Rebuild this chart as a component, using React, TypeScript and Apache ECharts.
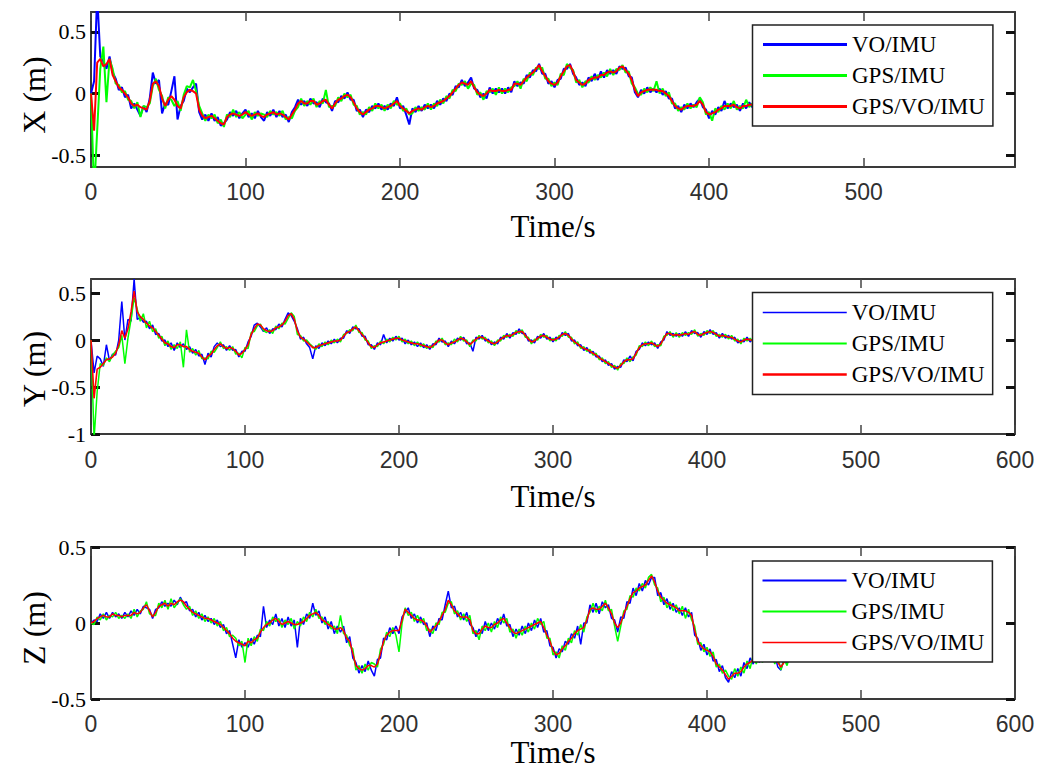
import React, { useEffect, useRef } from "react";
import * as echarts from "echarts";

const SERIES_NAMES = ["VO/IMU", "GPS/IMU", "GPS/VO/IMU"];
const COLORS = ["#0000ff", "#00ff00", "#ff0000"];
const TIME_STEP = 2; // seconds between samples
const X_TICKS_A = [0, 100, 200, 300, 400, 500];
const X_TICKS_B = [0, 100, 200, 300, 400, 500, 600];
const Y_TICKS_X = [-0.5, 0, 0.5];
const Y_TICKS_Y = [-1, -0.5, 0, 0.5];
const Y_TICKS_Z = [-0.5, 0, 0.5];

// ---------- X (m) ----------
const X_VO = [
  0, 0.10, 0.80, 0.30, 0.26, 0.20, 0.30, 0.17, 0.12, 0.03,
  0.05, -0.03, -0.01, -0.12, -0.08, -0.13, -0.18, -0.10, -0.15, -0.04,
  0.17, 0.08, 0.11, -0.16, -0.08, -0.09, 0.02, 0.14, -0.21, -0.10,
  -0.06, 0.04, 0.01, 0.05, 0.08, -0.15, -0.21, -0.17, -0.22, -0.16,
  -0.22, -0.19, -0.26, -0.24, -0.21, -0.15, -0.18, -0.14, -0.20, -0.16,
  -0.13, -0.19, -0.16, -0.20, -0.14, -0.19, -0.22, -0.15, -0.18, -0.13,
  -0.19, -0.14, -0.19, -0.17, -0.23, -0.15, -0.11, -0.05, -0.09, -0.06,
  -0.10, -0.04, -0.08, -0.07, -0.11, -0.04, -0.07, -0.08, -0.14, -0.06,
  -0.07, -0.02, -0.04, 0.01, -0.05, -0.05, -0.14, -0.13, -0.19, -0.13,
  -0.15, -0.10, -0.12, -0.08, -0.13, -0.10, -0.13, -0.08, -0.10, -0.03,
  -0.12, -0.10, -0.17, -0.25, -0.12, -0.15, -0.10, -0.14, -0.09, -0.12,
  -0.09, -0.12, -0.06, -0.09, -0.04, -0.06, 0.00, -0.01, 0.06, 0.05,
  0.11, 0.06, 0.09, 0.13, 0.04, 0.03, -0.03, 0.00, -0.04, 0.05,
  0.00, 0.04, 0.01, 0.04, 0.00, 0.05, 0.01, 0.10, 0.06, 0.09,
  0.08, 0.15, 0.13, 0.19, 0.18, 0.24, 0.16, 0.16, 0.08, 0.10,
  0.05, 0.11, 0.12, 0.20, 0.20, 0.24, 0.16, 0.13, 0.07, 0.09,
  0.06, 0.13, 0.10, 0.16, 0.11, 0.18, 0.13, 0.19, 0.16, 0.19,
  0.16, 0.22, 0.20, 0.21, 0.14, 0.13, 0.01, -0.03, 0.03, 0.00,
  0.05, 0.01, 0.04, 0.01, 0.04, -0.01, 0.02, -0.04, -0.04, -0.12,
  -0.10, -0.15, -0.09, -0.12, -0.08, -0.11, -0.07, -0.04, -0.11, -0.13,
  -0.20, -0.14, -0.17, -0.11, -0.14, -0.06, -0.12, -0.08, -0.11, -0.09,
  -0.14, -0.08, -0.12, -0.07, -0.11, -0.08,
];
const X_GPS = [
  0, -0.80, -0.30, 0.20, 0.38, -0.07, 0.28, 0.20, 0.08, 0.07,
  0.01, 0.02, -0.05, -0.06, -0.12, -0.07, -0.19, -0.10, -0.11, -0.08,
  0.06, 0.12, 0.03, -0.02, -0.12, -0.03, -0.05, -0.10, -0.06, -0.14,
  -0.01, 0.06, 0.05, 0.11, 0.02, -0.10, -0.16, -0.22, -0.17, -0.20,
  -0.17, -0.24, -0.21, -0.27, -0.17, -0.19, -0.13, -0.19, -0.15, -0.20,
  -0.17, -0.14, -0.21, -0.15, -0.18, -0.16, -0.17, -0.19, -0.14, -0.17,
  -0.15, -0.18, -0.14, -0.21, -0.19, -0.20, -0.14, -0.11, -0.04, -0.10,
  -0.06, -0.09, -0.04, -0.11, -0.06, -0.08, 0.03, -0.11, -0.10, -0.10,
  -0.03, -0.06, 0.00, -0.03, -0.01, -0.09, -0.10, -0.17, -0.15, -0.17,
  -0.11, -0.14, -0.08, -0.12, -0.09, -0.14, -0.09, -0.12, -0.06, -0.09,
  -0.08, -0.14, -0.12, -0.17, -0.16, -0.11, -0.14, -0.11, -0.13, -0.08,
  -0.13, -0.08, -0.10, -0.05, -0.08, -0.02, -0.04, 0.03, 0.02, 0.08,
  0.07, 0.10, 0.04, 0.08, 0.07, -0.01, 0.01, -0.05, 0.02, 0.01,
  0.04, -0.01, 0.05, 0.00, 0.04, 0.01, 0.05, 0.06, 0.10, 0.04,
  0.12, 0.10, 0.17, 0.15, 0.21, 0.20, 0.21, 0.12, 0.12, 0.06,
  0.09, 0.07, 0.16, 0.15, 0.24, 0.21, 0.19, 0.09, 0.11, 0.05,
  0.10, 0.09, 0.14, 0.11, 0.15, 0.13, 0.17, 0.14, 0.20, 0.15,
  0.20, 0.19, 0.23, 0.17, 0.18, 0.08, 0.05, 0.00, -0.01, 0.04,
  0.01, 0.05, 0.02, 0.10, 0.00, 0.04, -0.02, 0.01, -0.08, -0.08,
  -0.14, -0.11, -0.13, -0.08, -0.12, -0.09, -0.11, -0.03, -0.07, -0.17,
  -0.15, -0.22, -0.12, -0.15, -0.10, -0.13, -0.08, -0.12, -0.06, -0.13,
  -0.10, -0.12, -0.05, -0.11, -0.08, -0.12,
];
const X_FUSED = [
  0, -0.30, 0.25, 0.28, 0.22, 0.24, 0.28, 0.15, 0.10, 0.05,
  0.03, 0.00, -0.03, -0.08, -0.10, -0.09, -0.11, -0.12, -0.13, -0.06,
  0.08, 0.10, 0.06, -0.04, -0.10, -0.05, -0.02, -0.05, -0.10, -0.12,
  -0.03, 0.01, 0.03, 0.02, 0.00, -0.13, -0.18, -0.20, -0.19, -0.18,
  -0.20, -0.22, -0.24, -0.25, -0.19, -0.17, -0.16, -0.17, -0.18, -0.17,
  -0.15, -0.17, -0.18, -0.17, -0.16, -0.18, -0.19, -0.17, -0.16, -0.15,
  -0.17, -0.16, -0.17, -0.19, -0.21, -0.17, -0.13, -0.08, -0.06, -0.08,
  -0.08, -0.06, -0.06, -0.09, -0.08, -0.06, -0.05, -0.09, -0.12, -0.08,
  -0.05, -0.04, -0.02, -0.01, -0.03, -0.07, -0.12, -0.15, -0.17, -0.15,
  -0.13, -0.12, -0.10, -0.10, -0.11, -0.12, -0.11, -0.10, -0.08, -0.06,
  -0.10, -0.12, -0.14, -0.16, -0.14, -0.13, -0.12, -0.13, -0.11, -0.10,
  -0.11, -0.10, -0.08, -0.07, -0.06, -0.04, -0.02, 0.01, 0.04, 0.07,
  0.09, 0.08, 0.07, 0.10, 0.05, 0.01, -0.01, -0.02, 0.00, 0.03,
  0.02, 0.02, 0.03, 0.02, 0.02, 0.03, 0.03, 0.08, 0.08, 0.07,
  0.10, 0.13, 0.15, 0.17, 0.20, 0.23, 0.18, 0.14, 0.10, 0.08,
  0.07, 0.09, 0.14, 0.18, 0.22, 0.23, 0.18, 0.11, 0.09, 0.07,
  0.08, 0.11, 0.12, 0.13, 0.13, 0.15, 0.15, 0.17, 0.18, 0.17,
  0.18, 0.21, 0.22, 0.19, 0.16, 0.11, 0.03, -0.02, 0.01, 0.02,
  0.03, 0.03, 0.03, 0.03, 0.02, 0.02, 0.00, -0.02, -0.06, -0.10,
  -0.12, -0.13, -0.11, -0.10, -0.10, -0.10, -0.09, -0.06, -0.09, -0.15,
  -0.17, -0.16, -0.15, -0.13, -0.12, -0.10, -0.10, -0.10, -0.09, -0.11,
  -0.12, -0.10, -0.10, -0.09, -0.09, -0.10,
];

// ---------- Y (m) ----------
const Y_VO = [
  0, -0.35, -0.17, -0.20, -0.28, -0.05, -0.22, -0.15, -0.16, 0.00,
  0.41, 0.00, 0.22, 0.20, 0.65, 0.22, 0.24, 0.19, 0.20, 0.12,
  0.16, 0.06, 0.07, -0.01, 0.00, -0.07, -0.03, -0.11, -0.03, -0.08,
  -0.04, -0.10, -0.07, -0.14, -0.10, -0.17, -0.15, -0.26, -0.14, -0.18,
  -0.07, -0.03, -0.07, -0.05, -0.11, -0.06, -0.11, -0.10, -0.18, -0.12,
  -0.12, -0.02, 0.04, 0.16, 0.18, 0.14, 0.09, 0.13, 0.07, 0.12,
  0.11, 0.17, 0.14, 0.22, 0.29, 0.26, 0.20, 0.12, 0.01, 0.03,
  -0.04, -0.08, -0.20, -0.06, -0.09, -0.03, -0.06, -0.01, -0.04, 0.01,
  -0.03, 0.02, 0.02, 0.10, 0.07, 0.14, 0.12, 0.12, 0.04, 0.04,
  -0.05, -0.05, -0.10, -0.03, -0.05, 0.06, -0.03, 0.02, -0.01, 0.04,
  0.00, 0.02, -0.04, 0.00, -0.05, -0.02, -0.07, -0.03, -0.08, -0.05,
  -0.10, -0.04, -0.05, 0.02, -0.02, -0.01, -0.07, -0.01, -0.04, 0.02,
  0.00, 0.03, -0.04, -0.03, -0.12, 0.03, 0.01, 0.05, -0.01, 0.01,
  -0.05, -0.02, -0.04, 0.03, 0.01, 0.07, 0.02, 0.08, 0.06, 0.12,
  0.07, 0.07, -0.01, 0.00, -0.03, 0.04, 0.02, 0.07, 0.01, 0.03,
  -0.02, 0.03, 0.01, 0.08, 0.05, 0.07, -0.01, 0.00, -0.06, -0.05,
  -0.11, -0.08, -0.14, -0.12, -0.18, -0.17, -0.23, -0.21, -0.27, -0.25,
  -0.31, -0.28, -0.29, -0.21, -0.23, -0.17, -0.22, -0.12, -0.10, -0.03,
  -0.06, -0.02, -0.05, -0.03, -0.09, -0.02, 0.00, 0.09, 0.05, 0.07,
  0.04, 0.07, 0.04, 0.09, 0.04, 0.10, 0.07, 0.08, 0.03, 0.09,
  0.06, 0.11, 0.06, 0.08, 0.02, 0.07, 0.02, 0.05, 0.01, 0.03,
  -0.03, 0.00, -0.02, 0.03, -0.02, 0.02,
];
const Y_GPS = [
  0, -1.05, -0.55, -0.25, -0.27, -0.19, -0.23, -0.16, -0.12, -0.08,
  0.05, -0.25, 0.02, 0.22, 0.45, 0.33, 0.20, 0.28, 0.13, 0.20,
  0.09, 0.12, 0.02, 0.04, -0.06, -0.01, -0.10, -0.05, -0.09, -0.02,
  -0.29, 0.11, -0.13, -0.09, -0.16, -0.11, -0.20, -0.19, -0.20, -0.12,
  -0.13, -0.08, -0.02, -0.09, -0.07, -0.11, -0.07, -0.15, -0.14, -0.19,
  -0.08, -0.09, 0.08, 0.09, 0.15, 0.17, 0.10, 0.08, 0.11, 0.07,
  0.15, 0.12, 0.18, 0.17, 0.23, 0.29, 0.25, 0.06, 0.05, -0.01,
  0.00, -0.04, -0.07, -0.10, -0.04, -0.07, -0.02, -0.05, 0.00, -0.03,
  0.01, -0.02, 0.06, 0.07, 0.11, 0.10, 0.16, 0.08, 0.08, 0.00,
  -0.01, -0.09, -0.06, -0.07, -0.01, -0.04, 0.01, -0.02, 0.03, 0.00,
  0.04, -0.02, 0.01, -0.04, -0.01, -0.06, -0.02, -0.07, -0.04, -0.09,
  -0.06, -0.08, -0.01, -0.02, 0.02, -0.05, -0.03, -0.05, 0.01, -0.02,
  0.04, -0.01, 0.00, -0.07, 0.00, -0.01, 0.05, 0.01, 0.03, -0.03,
  -0.01, -0.06, 0.00, -0.01, 0.05, 0.03, 0.06, 0.04, 0.10, 0.07,
  0.11, 0.03, 0.03, -0.04, 0.01, 0.00, 0.06, 0.03, 0.05, -0.01,
  0.02, -0.01, 0.05, 0.04, 0.09, 0.03, 0.03, -0.04, -0.02, -0.09,
  -0.07, -0.12, -0.10, -0.16, -0.14, -0.21, -0.19, -0.25, -0.23, -0.29,
  -0.27, -0.32, -0.25, -0.25, -0.19, -0.23, -0.18, -0.16, -0.06, -0.07,
  -0.02, -0.06, -0.01, -0.07, -0.05, -0.06, 0.04, 0.05, 0.09, 0.03,
  0.08, 0.03, 0.08, 0.05, 0.08, 0.06, 0.11, 0.04, 0.07, 0.05,
  0.10, 0.07, 0.10, 0.04, 0.06, 0.03, 0.06, 0.01, 0.05, -0.01,
  0.01, -0.04, 0.02, -0.01, 0.02, -0.02,
];
const Y_FUSED = [
  0, -0.62, -0.31, -0.29, -0.25, -0.21, -0.20, -0.18, -0.14, -0.05,
  0.10, 0.02, 0.12, 0.30, 0.52, 0.30, 0.25, 0.22, 0.18, 0.15,
  0.13, 0.09, 0.05, 0.01, -0.03, -0.04, -0.07, -0.08, -0.05, -0.05,
  -0.07, -0.07, -0.10, -0.12, -0.13, -0.14, -0.18, -0.21, -0.17, -0.15,
  -0.10, -0.06, -0.04, -0.07, -0.09, -0.08, -0.09, -0.12, -0.16, -0.14,
  -0.10, -0.05, 0.06, 0.12, 0.17, 0.16, 0.12, 0.10, 0.09, 0.10,
  0.13, 0.14, 0.16, 0.20, 0.26, 0.28, 0.22, 0.10, 0.03, 0.01,
  -0.02, -0.05, -0.08, -0.08, -0.06, -0.05, -0.04, -0.03, -0.02, -0.01,
  -0.01, 0.00, 0.04, 0.08, 0.09, 0.12, 0.14, 0.10, 0.06, 0.02,
  -0.03, -0.07, -0.08, -0.05, -0.03, -0.02, -0.01, 0.00, 0.01, 0.02,
  0.02, 0.00, -0.01, -0.02, -0.03, -0.04, -0.04, -0.05, -0.06, -0.07,
  -0.08, -0.06, -0.03, 0.00, 0.00, -0.03, -0.05, -0.03, -0.02, 0.00,
  0.02, 0.01, -0.02, -0.05, -0.02, 0.01, 0.03, 0.03, 0.01, -0.01,
  -0.03, -0.04, -0.02, 0.01, 0.03, 0.05, 0.04, 0.06, 0.08, 0.09,
  0.09, 0.05, 0.01, -0.02, -0.01, 0.02, 0.04, 0.05, 0.03, 0.01,
  0.00, 0.01, 0.03, 0.06, 0.07, 0.05, 0.01, -0.02, -0.04, -0.07,
  -0.09, -0.10, -0.12, -0.14, -0.16, -0.19, -0.21, -0.23, -0.25, -0.27,
  -0.29, -0.30, -0.27, -0.23, -0.21, -0.21, -0.20, -0.14, -0.08, -0.05,
  -0.04, -0.04, -0.03, -0.05, -0.07, -0.04, 0.02, 0.07, 0.07, 0.05,
  0.06, 0.05, 0.06, 0.07, 0.06, 0.08, 0.09, 0.06, 0.05, 0.07,
  0.08, 0.09, 0.08, 0.06, 0.04, 0.05, 0.04, 0.03, 0.03, 0.01,
  -0.01, -0.02, 0.00, 0.01, 0.00, 0.00,
];

// ---------- Z (m) ----------
const Z_VO = [
  0.00, 0.02, 0.01, 0.06, 0.03, 0.07, 0.03, 0.07, 0.04, 0.06,
  0.03, 0.07, 0.04, 0.08, 0.05, 0.09, 0.06, 0.11, 0.10, 0.09,
  0.03, 0.09, 0.10, 0.14, 0.11, 0.13, 0.11, 0.15, 0.12, 0.17,
  0.13, 0.14, 0.08, 0.09, 0.04, 0.07, 0.02, 0.05, 0.01, 0.03,
  -0.01, 0.02, -0.03, -0.01, -0.07, -0.05, -0.14, -0.23, -0.11, -0.16,
  -0.13, -0.16, -0.10, -0.14, -0.08, -0.09, 0.11, -0.03, 0.02, -0.01,
  0.06, -0.02, 0.03, -0.03, 0.04, -0.02, 0.02, -0.16, 0.03, -0.01,
  0.06, 0.03, 0.13, 0.05, 0.08, 0.00, 0.04, -0.04, 0.01, -0.07,
  -0.02, -0.06, -0.02, -0.13, -0.09, -0.23, -0.26, -0.33, -0.28, -0.32,
  -0.25, -0.31, -0.35, -0.24, -0.23, -0.10, -0.11, -0.03, -0.07, -0.02,
  -0.07, 0.04, 0.07, 0.10, 0.03, 0.06, 0.00, 0.04, -0.01, 0.00,
  -0.09, -0.02, -0.05, 0.03, 0.02, 0.12, 0.21, 0.10, 0.11, 0.04,
  0.07, 0.02, 0.07, -0.01, -0.03, -0.09, -0.04, -0.07, 0.01, -0.05,
  0.00, -0.04, 0.03, -0.01, 0.06, -0.02, -0.01, -0.09, -0.04, -0.08,
  -0.02, -0.07, 0.00, -0.05, 0.02, -0.03, 0.03, -0.06, -0.05, -0.15,
  -0.16, -0.23, -0.17, -0.19, -0.12, -0.14, -0.07, -0.10, -0.02, -0.14,
  0.00, 0.00, 0.12, 0.07, 0.13, 0.06, 0.14, 0.10, 0.12, 0.03,
  0.02, -0.06, 0.04, 0.03, 0.14, 0.13, 0.23, 0.18, 0.26, 0.21,
  0.28, 0.25, 0.30, 0.30, 0.18, 0.20, 0.12, 0.16, 0.09, 0.13,
  0.07, 0.10, 0.05, 0.10, 0.04, 0.07, -0.08, -0.10, -0.18, -0.14,
  -0.21, -0.17, -0.25, -0.24, -0.32, -0.28, -0.36, -0.39, -0.32, -0.36,
  -0.30, -0.35, -0.26, -0.30, -0.23, -0.27, -0.21, -0.26, -0.19, -0.24,
  -0.18, -0.25, -0.21, -0.29, -0.31, -0.23, -0.27, -0.19, -0.22, -0.17,
];
const Z_GPS = [
  0.00, -0.01, 0.04, 0.02, 0.06, 0.02, 0.05, 0.04, 0.07, 0.03,
  0.05, 0.03, 0.06, 0.03, 0.09, 0.04, 0.08, 0.09, 0.14, 0.06,
  0.05, 0.05, 0.13, 0.10, 0.15, 0.09, 0.16, 0.10, 0.13, 0.16,
  0.12, 0.09, 0.11, 0.05, 0.08, 0.03, 0.06, 0.01, 0.04, 0.00,
  0.03, -0.02, 0.01, -0.05, -0.03, -0.09, -0.08, -0.10, -0.15, -0.12,
  -0.26, -0.10, -0.15, -0.09, -0.12, -0.04, -0.05, 0.01, -0.02, 0.04,
  0.01, 0.03, -0.03, 0.02, -0.01, 0.03, -0.04, 0.01, -0.02, 0.04,
  0.01, 0.07, 0.04, 0.09, 0.03, 0.04, -0.01, 0.01, -0.04, -0.02,
  -0.07, 0.05, -0.07, -0.08, -0.15, -0.17, -0.31, -0.28, -0.33, -0.27,
  -0.31, -0.26, -0.27, -0.29, -0.17, -0.14, -0.06, -0.09, -0.03, -0.08,
  -0.19, 0.00, 0.10, 0.05, 0.07, 0.01, 0.05, 0.00, 0.03, -0.05,
  -0.04, -0.07, 0.00, -0.01, 0.07, 0.07, 0.13, 0.14, 0.06, 0.08,
  0.02, 0.06, 0.01, 0.05, -0.07, -0.05, -0.11, -0.02, -0.05, 0.00,
  -0.06, 0.01, -0.03, 0.04, 0.00, 0.03, -0.06, -0.04, -0.10, -0.04,
  -0.08, -0.02, -0.06, 0.00, -0.04, 0.03, -0.01, 0.01, -0.10, -0.10,
  -0.21, -0.19, -0.23, -0.15, -0.18, -0.10, -0.13, -0.05, -0.08, -0.01,
  -0.06, 0.04, 0.07, 0.13, 0.07, 0.11, 0.08, 0.15, 0.08, 0.09,
  -0.02, -0.12, -0.02, 0.08, 0.09, 0.18, 0.17, 0.23, 0.21, 0.26,
  0.23, 0.30, 0.32, 0.25, 0.23, 0.14, 0.17, 0.10, 0.14, 0.08,
  0.12, 0.06, 0.11, 0.03, 0.09, 0.02, -0.02, -0.14, -0.13, -0.19,
  -0.16, -0.22, -0.19, -0.29, -0.27, -0.33, -0.31, -0.35, -0.37, -0.30,
  -0.35, -0.29, -0.33, -0.25, -0.30, -0.21, -0.27, -0.19, -0.26, -0.17,
  -0.25, -0.19, -0.27, -0.22, -0.31, -0.24, -0.28, -0.20, -0.24, -0.21,
];
const Z_FUSED = [
  0.00, 0.01, 0.03, 0.04, 0.05, 0.04, 0.04, 0.06, 0.05, 0.05,
  0.04, 0.05, 0.05, 0.05, 0.07, 0.06, 0.07, 0.10, 0.12, 0.08,
  0.04, 0.07, 0.11, 0.12, 0.13, 0.11, 0.13, 0.12, 0.14, 0.15,
  0.14, 0.11, 0.09, 0.07, 0.06, 0.05, 0.04, 0.03, 0.03, 0.02,
  0.01, 0.00, -0.01, -0.03, -0.05, -0.07, -0.10, -0.12, -0.13, -0.14,
  -0.15, -0.12, -0.13, -0.11, -0.10, -0.06, -0.03, -0.01, 0.00, 0.02,
  0.03, 0.01, -0.01, 0.00, 0.01, 0.00, -0.01, -0.01, 0.00, 0.01,
  0.03, 0.05, 0.06, 0.07, 0.05, 0.02, 0.01, -0.01, -0.02, -0.04,
  -0.04, -0.03, -0.05, -0.10, -0.12, -0.20, -0.28, -0.30, -0.31, -0.30,
  -0.28, -0.28, -0.29, -0.27, -0.20, -0.12, -0.08, -0.06, -0.05, -0.05,
  -0.05, 0.02, 0.09, 0.07, 0.05, 0.03, 0.02, 0.02, 0.01, -0.02,
  -0.06, -0.04, -0.02, 0.01, 0.05, 0.09, 0.15, 0.12, 0.08, 0.06,
  0.04, 0.04, 0.04, 0.02, -0.05, -0.07, -0.07, -0.04, -0.02, -0.03,
  -0.03, -0.01, 0.00, 0.02, 0.03, 0.00, -0.03, -0.06, -0.07, -0.06,
  -0.05, -0.04, -0.03, -0.02, -0.01, 0.00, 0.01, -0.03, -0.08, -0.12,
  -0.18, -0.21, -0.20, -0.17, -0.15, -0.12, -0.10, -0.07, -0.05, -0.04,
  -0.03, 0.02, 0.09, 0.10, 0.09, 0.09, 0.11, 0.13, 0.10, 0.06,
  0.00, -0.03, 0.00, 0.06, 0.11, 0.16, 0.20, 0.21, 0.23, 0.24,
  0.25, 0.28, 0.31, 0.27, 0.21, 0.17, 0.15, 0.13, 0.12, 0.11,
  0.10, 0.08, 0.08, 0.08, 0.07, 0.05, -0.05, -0.12, -0.15, -0.17,
  -0.18, -0.19, -0.22, -0.27, -0.29, -0.31, -0.34, -0.37, -0.35, -0.33,
  -0.33, -0.32, -0.29, -0.27, -0.26, -0.24, -0.24, -0.23, -0.22, -0.22,
  -0.21, -0.22, -0.24, -0.26, -0.29, -0.26, -0.24, -0.22, -0.20, -0.19,
];

const SERIF = "'Liberation Serif', 'Times New Roman', serif";
const SANS = "'Liberation Sans', Arial, sans-serif";

type Panel = {
  label: string;
  labelY: number;
  top: number;
  height: number;
  xMax: number;
  xTicks: number[];
  yMin: number;
  yMax: number;
  yTicks: number[];
  labelMargin: number;
  nameGap: number;
  data: number[][];
  lineWidths: number[];
  legendTop: number;
  legendPad: number;
  legendWidths: number[];
};

const PANELS: Panel[] = [
  {
    label: "X (m)", labelY: 95, top: 12, height: 155, xMax: 598, xTicks: X_TICKS_A,
    yMin: -0.594, yMax: 0.66, yTicks: Y_TICKS_X, labelMargin: 13, nameGap: 44,
    data: [X_VO, X_GPS, X_FUSED], lineWidths: [2, 2, 2],
    legendTop: 25, legendPad: 8, legendWidths: [3, 3, 3],
  },
  {
    label: "Y (m)", labelY: 369, top: 279, height: 155, xMax: 600, xTicks: X_TICKS_B,
    yMin: -1, yMax: 0.65, yTicks: Y_TICKS_Y, labelMargin: 14, nameGap: 47,
    data: [Y_VO, Y_GPS, Y_FUSED], lineWidths: [1.5, 1.5, 1.6],
    legendTop: 292.5, legendPad: 8.5, legendWidths: [1.5, 2, 2.5],
  },
  {
    label: "Z (m)", labelY: 628, top: 547, height: 156, xMax: 600, xTicks: X_TICKS_B,
    yMin: -0.5, yMax: 0.5, yTicks: Y_TICKS_Z, labelMargin: 13, nameGap: 38,
    data: [Z_VO, Z_GPS, Z_FUSED], lineWidths: [1.5, 1.5, 1.5],
    legendTop: 561, legendPad: 8, legendWidths: [2, 2, 1.5],
  },
];

export default function App() {
  const ref = useRef<HTMLDivElement>(null);

  useEffect(() => {
    if (!ref.current) return;
    const chart = echarts.init(ref.current, undefined, { renderer: "svg" });

    const grid: any[] = [];
    const xAxis: any[] = [];
    const yAxis: any[] = [];
    const series: any[] = [];
    const legend: any[] = [];
    const graphic: any[] = [];

    const frame = { show: true, onZero: false, lineStyle: { color: "#3a3a3a", width: 2 } };

    PANELS.forEach((p, i) => {
      grid.push({ left: 91, top: p.top, width: 924, height: p.height });
      const xBase = {
        type: "value", gridIndex: i, min: 0, max: p.xMax,
        axisLine: frame, splitLine: { show: false },
        axisTick: { show: true, inside: true, length: 9, customValues: p.xTicks,
          lineStyle: { color: "#444", width: 1.5 } },
      };
      xAxis.push({
        ...xBase, position: "bottom",
        axisLabel: { customValues: p.xTicks, margin: p.labelMargin, fontFamily: SANS,
          fontSize: 23, color: "#303030" },
        name: "Time/s", nameLocation: "middle", nameGap: p.nameGap,
        nameTextStyle: { fontFamily: SERIF, fontSize: 31, color: "#000" },
      });
      xAxis.push({ ...xBase, position: "top", axisLabel: { show: false } });
      const yBase = {
        type: "value", gridIndex: i, min: p.yMin, max: p.yMax,
        axisLine: frame, splitLine: { show: false },
        axisTick: { show: true, inside: true, length: 9, customValues: p.yTicks,
          lineStyle: { color: "#111", width: 3 } },
      };
      yAxis.push({
        ...yBase, position: "left",
        axisLabel: { customValues: p.yTicks, margin: 5, fontFamily: SERIF,
          fontSize: 22, color: "#000" },
      });
      yAxis.push({ ...yBase, position: "right", axisLabel: { show: false } });

      p.data.forEach((values, k) => {
        series.push({
          type: "line",
          name: SERIES_NAMES[k],
          xAxisIndex: 2 * i,
          yAxisIndex: 2 * i,
          data: values.map((v, j) => [j * TIME_STEP, v]),
          symbol: "none",
          showSymbol: false,
          clip: true,
          color: COLORS[k],
          lineStyle: { color: COLORS[k], width: p.lineWidths[k] },
          z: 2 + k,
        });
      });

      legend.push({
        left: 752.5,
        top: p.legendTop,
        orient: "vertical",
        align: "left",
        selectedMode: false,
        itemWidth: 84,
        itemHeight: 22,
        itemGap: 8,
        textGap: 6,
        padding: [p.legendPad, 8, p.legendPad, 9],
        borderColor: "#222",
        borderWidth: 1.5,
        borderRadius: 0,
        backgroundColor: "#fff",
        textStyle: { fontFamily: SERIF, fontSize: 23, color: "#000" },
        data: SERIES_NAMES.map((n, k) => ({
          name: n,
          itemStyle: { opacity: 0 },
          lineStyle: { color: COLORS[k], width: p.legendWidths[k] },
        })),
        z: 10,
      });

      graphic.push({
        type: "text",
        x: 34,
        y: p.labelY,
        rotation: Math.PI / 2,
        style: {
          text: p.label,
          font: `32px ${SERIF}`,
          fill: "#000",
          textAlign: "center",
          textVerticalAlign: "middle",
        },
      });
    });

    chart.setOption({
      animation: false,
      backgroundColor: "#fff",
      grid, xAxis, yAxis, series, legend, graphic,
    });

    return () => chart.dispose();
  }, []);

  return (
    <div
      ref={ref}
      style={{ position: "fixed", left: 0, top: 0, width: 1047, height: 769 }}
    />
  );
}
